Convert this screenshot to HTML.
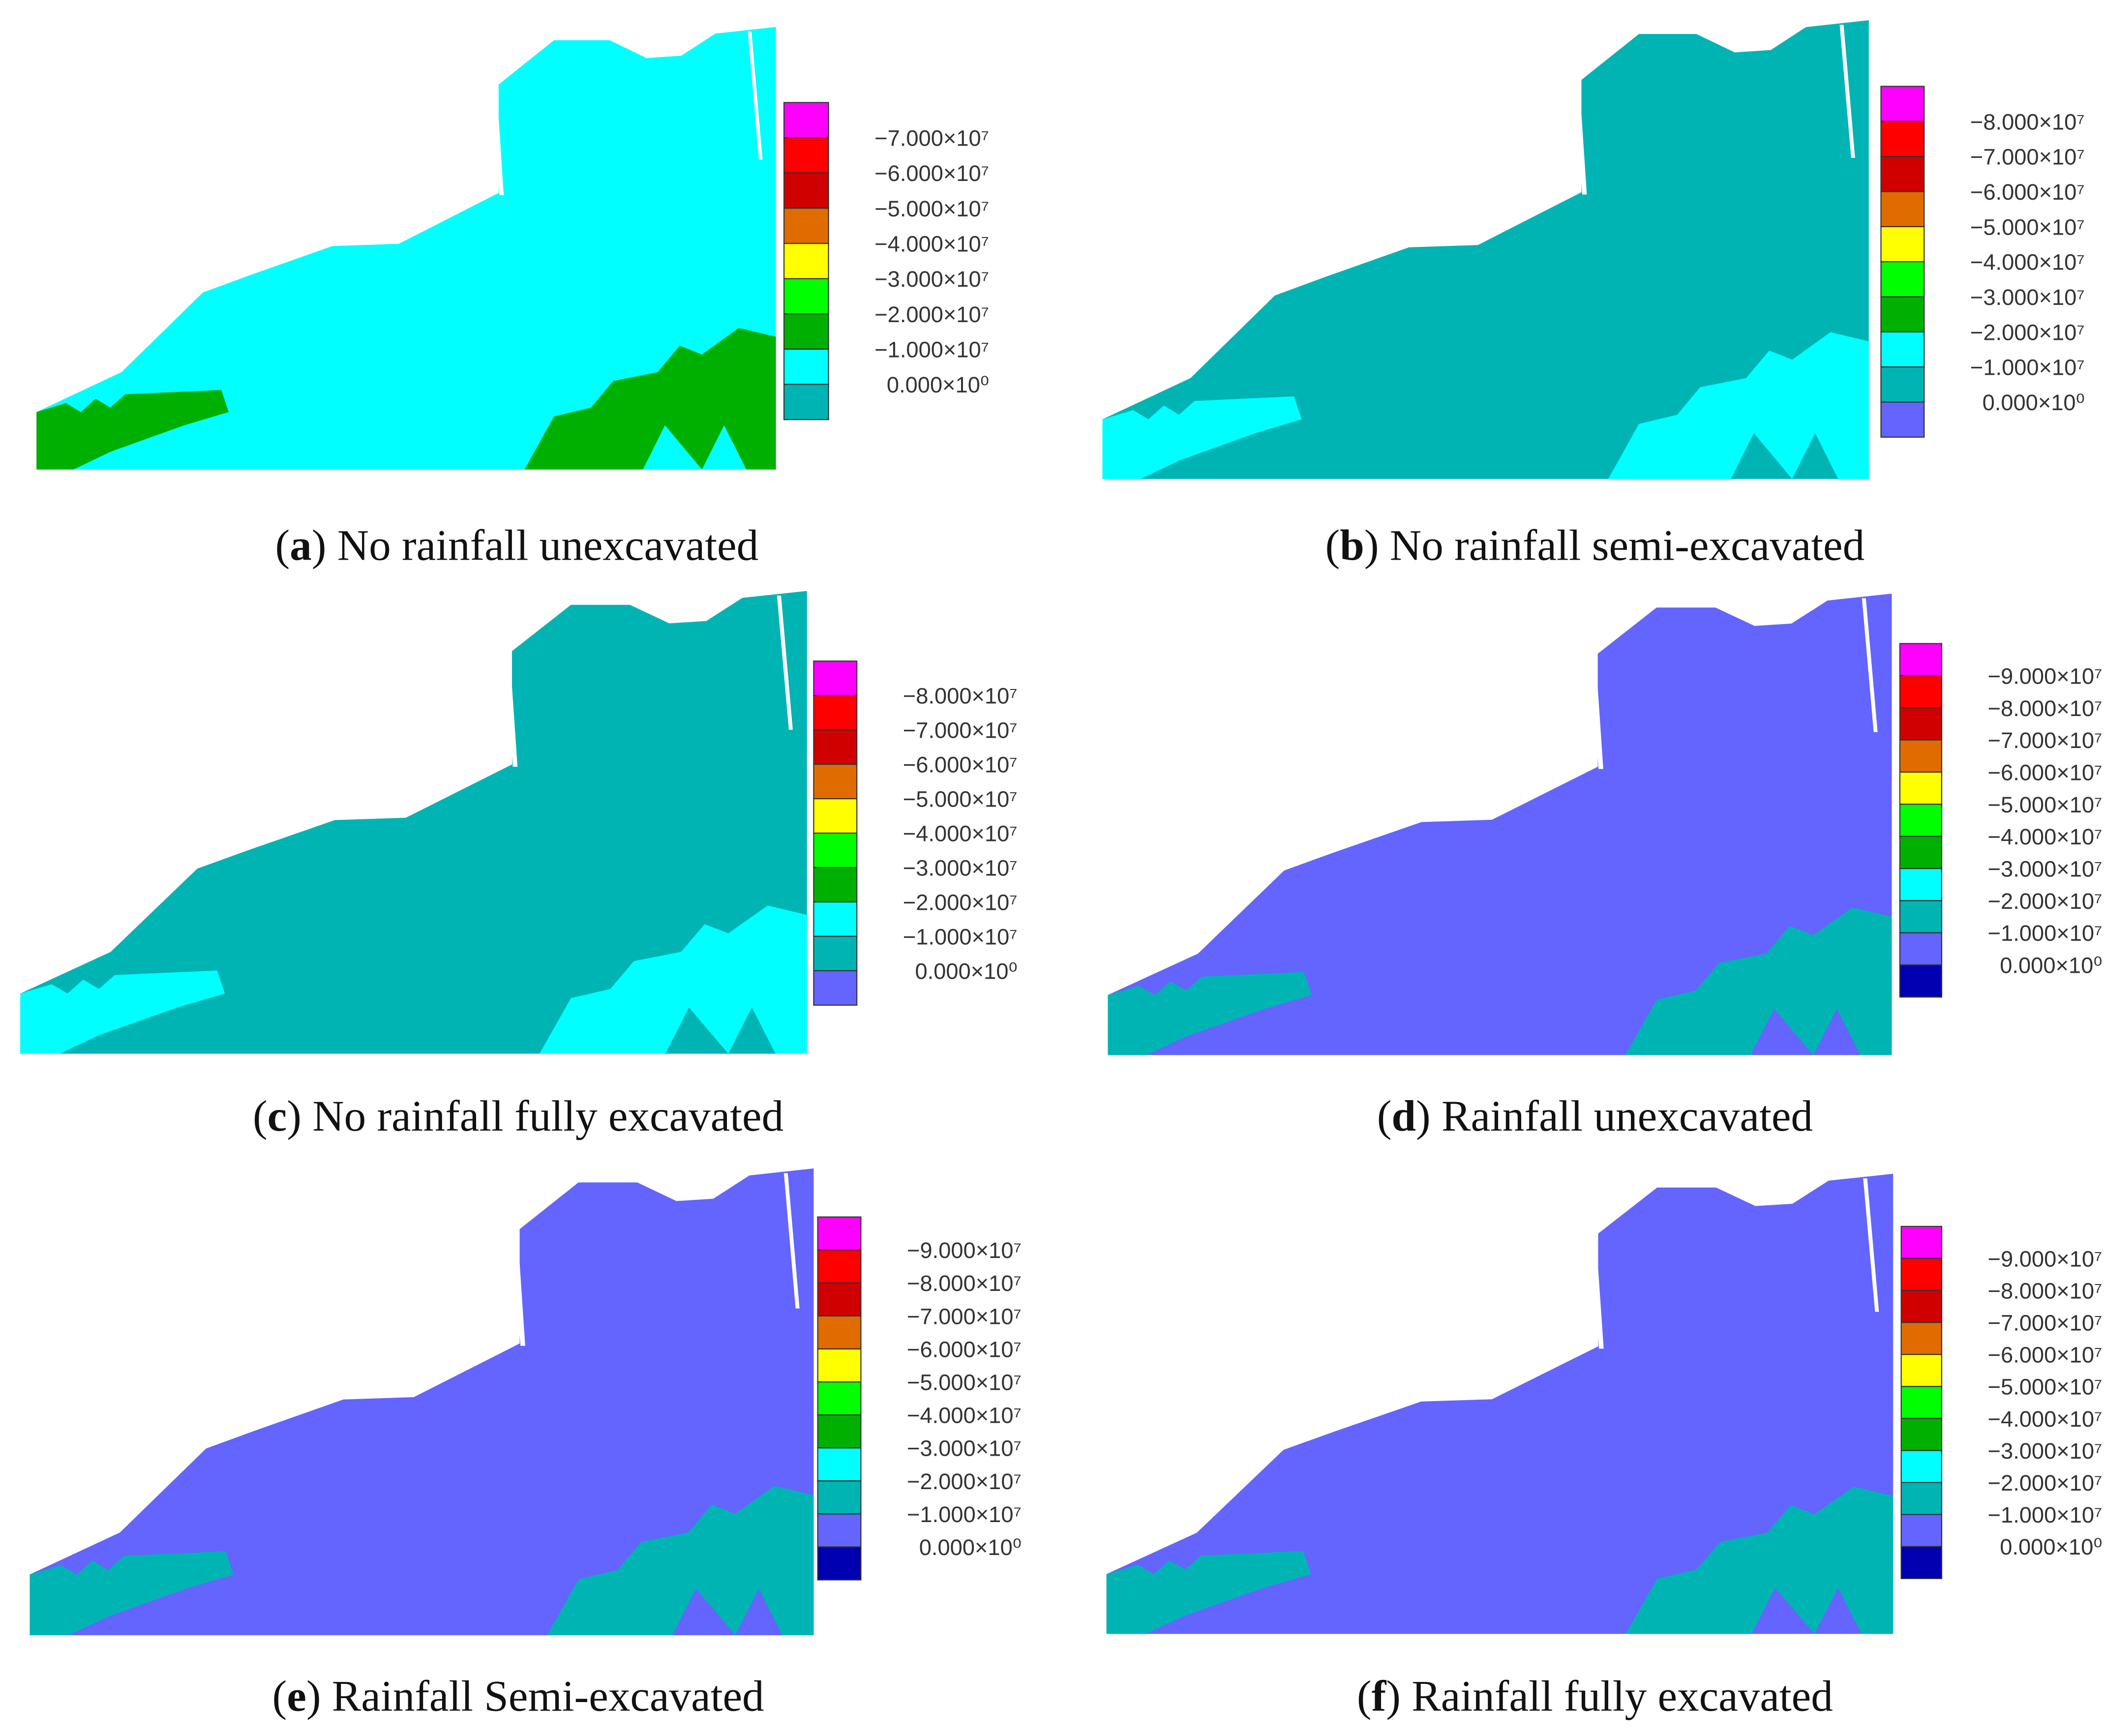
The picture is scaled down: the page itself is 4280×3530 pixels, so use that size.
<!DOCTYPE html>
<html><head><meta charset="utf-8">
<style>
html,body{margin:0;padding:0;background:#fff;}
svg{display:block;}
.lab{font-family:"Liberation Sans",sans-serif;font-size:16.5px;fill:#333;}
.cap{font-family:"Liberation Serif",serif;font-size:32.5px;fill:#111;}
</style></head>
<body>
<svg id="fig" width="4280" height="3530" viewBox="0 0 1560 1286.7" xmlns="http://www.w3.org/2000/svg"></svg>
<script>
// legend data
const legendColors = ["#ff00ff","#ff0000","#d00000","#e06c00","#ffff00","#00ff00","#00b000","#00ffff","#00b4b4","#6464ff","#0000b0"];
const panelLetters = ["a","b","c","d","e","f"];
const panelTitles = [" No rainfall unexcavated"," No rainfall semi-excavated"," No rainfall fully excavated"," Rainfall unexcavated"," Rainfall Semi-excavated"," Rainfall fully excavated"];
const legendMax = [7,8,8,9,9,9];
const mainColor = ["#00ffff","#00b4b4","#00b4b4","#6464ff","#6464ff","#6464ff"];
const subColor = ["#00b000","#00ffff","#00ffff","#00b4b4","#00b4b4","#00b4b4"];
// layout
const plots=[[27,20,575,348],[817,15,1385,355],[15,438,598,781],[821,440,1402,782],[22,866,603,1212],[820,870,1403,1211]];
const legs=[[581,76,614,311],[1394,64,1426,324],[603,490,635,745],[1408,477,1439,739],[606,902,638,1171],[1409,909,1439,1170]];
const capCx=[383,1182,384,1182,384,1182], capY=[415,415,838,838,1268,1268];
const outline=[[0,1],[0,0.87],[0.115,0.78],[0.225,0.6],[0.29,0.56],[0.4,0.495],[0.49,0.49],[0.625,0.375],[0.625,0.13],[0.70,0.03],[0.775,0.03],[0.825,0.07],[0.872,0.065],[0.918,0.015],[1,0],[1,1]];
const bandL=[[0,0.87],[0.04,0.85],[0.06,0.87],[0.08,0.84],[0.1,0.86],[0.12,0.83],[0.25,0.82],[0.26,0.87],[0.2,0.9],[0.15,0.93],[0.1,0.96],[0.05,1],[0,1]];
const patchR=[[0.66,1],[0.7,0.88],[0.75,0.86],[0.78,0.8],[0.84,0.78],[0.87,0.72],[0.9,0.74],[0.95,0.68],[1,0.7],[1,1],[0.96,1],[0.93,0.9],[0.9,1],[0.85,0.9],[0.82,1]];
const NS="http://www.w3.org/2000/svg";
const svg=document.getElementById('fig');
function mk(t,a){const e=document.createElementNS(NS,t);for(const k in a)e.setAttribute(k,a[k]);svg.appendChild(e);return e;}
function pts(p,b){return p.map(q=>(b[0]+q[0]*(b[2]-b[0])).toFixed(1)+","+(b[1]+q[1]*(b[3]-b[1])).toFixed(1)).join(" ");}
for(let i=0;i<6;i++){
  const b=plots[i];
  let e=mk('polygon',{points:pts(outline,b),fill:mainColor[i]});
  
  
  e=mk('polygon',{points:pts(bandL,b),fill:subColor[i]});
  
  
  e=mk('polygon',{points:pts(patchR,b),fill:subColor[i]});
  
  
  e=mk('polygon',{points:pts([[0.615,0.13],[0.622,0.13],[0.632,0.38],[0.626,0.38]],b),fill:"#fff"});
  
  
  e=mk('polygon',{points:pts([[0.962,0.01],[0.967,0.01],[0.982,0.3],[0.977,0.3]],b),fill:"#fff"});
  
  
  // legend
  const L=legs[i], n=legendMax[i]+2, h=(L[3]-L[1])/n;
  for(let k=0;k<n;k++){
    e=mk('rect',{x:L[0],y:L[1]+k*h,width:L[2]-L[0],height:h,fill:legendColors[k],stroke:"#333","stroke-width":0.8});
    
    
  }
  for(let k=0;k<=legendMax[i];k++){
    const v=legendMax[i]-k;
    const t=mk('text',{x:L[2]+119,y:L[1]+(k+1)*h+6,"text-anchor":"end",class:"lab"});
    
    
    t.textContent=(v? "\u2212"+v+".000\u00d710\u2077" : "0.000\u00d710\u2070");
  }
  const c=mk('text',{x:capCx[i],y:capY[i],"text-anchor":"middle",class:"cap"});
  
  
  c.innerHTML='(<tspan font-weight="bold">'+panelLetters[i]+'</tspan>)'+panelTitles[i];
}
</script>
</body></html>
